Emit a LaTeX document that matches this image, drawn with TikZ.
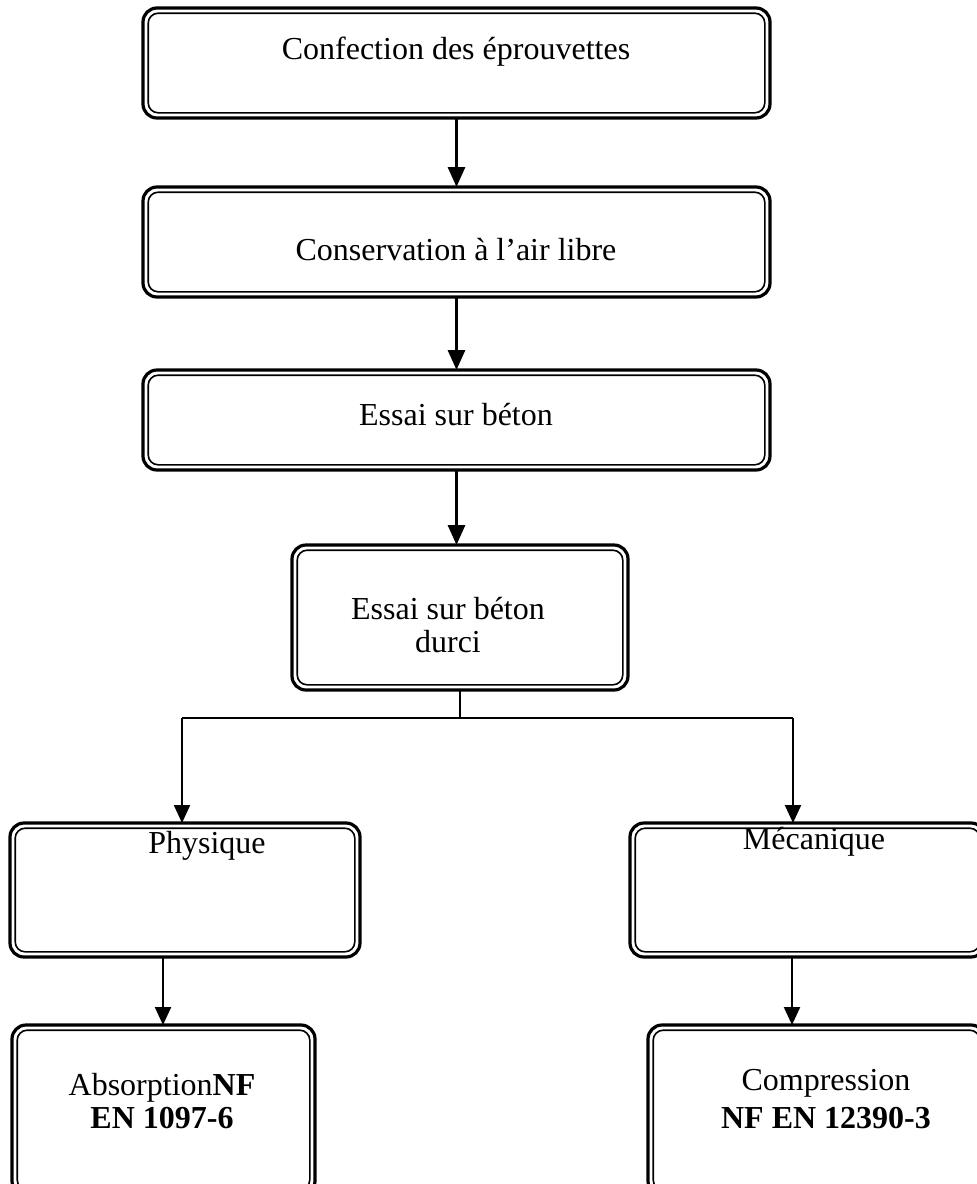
\documentclass[tikz,border=0pt]{standalone}
\usepackage{fontspec}
\setmainfont{Liberation Serif}
\usetikzlibrary{arrows.meta}
\begin{document}
\begin{tikzpicture}[x=0.5pt,y=-0.5pt,
  box/.style={draw, line width=1.6pt, rounded corners=7pt, rectangle, inner sep=0pt, outer sep=0pt},
  innerb/.style={draw, line width=0.8pt, rounded corners=5pt},
  lbl/.style={font=\fontsize{16}{16.5}\selectfont, inner sep=0pt, align=center},
  arr/.style={line width=1.5pt, -{Triangle[width=8.5pt,length=10pt]}},
  arrs/.style={line width=1.1pt, -{Triangle[width=8pt,length=9pt]}},
  ln/.style={line width=0.6pt},
  lnb/.style={line width=1.2pt}]
\useasboundingbox (0,0) rectangle (976,1184);
% boxes (px coords; sizes in pt = px/2)
\node[box, minimum width=313.5pt, minimum height=55pt] (b1) at (456.5,63) {};
\node[box, minimum width=313.5pt, minimum height=55pt] (b2) at (456.5,242) {};
\node[box, minimum width=313.5pt, minimum height=50pt] (b3) at (456.5,420) {};
\node[box, minimum width=168pt, minimum height=72.5pt] (b4) at (460,617.5) {};
\node[box, minimum width=175pt, minimum height=67pt] (b5) at (185,890) {};
\node[box, minimum width=177.5pt, minimum height=67pt] (b6) at (807.5,890) {};
\node[box, minimum width=151.5pt, minimum height=85pt] (b7) at (163.5,1110) {};
\node[box, minimum width=168.5pt, minimum height=85pt] (b8) at (816.5,1110) {};
\foreach \b in {b1,b2,b3,b4,b5,b6,b7,b8}
  \draw[innerb] ([xshift=2.6pt,yshift=-2.6pt]\b.north west) rectangle ([xshift=-2.6pt,yshift=2.6pt]\b.south east);
% labels
\node[lbl] (t1) at (456,52) {Confection des éprouvettes};
\node[lbl] (t2) at (456,250) {Conservation à l’air libre};
\node[lbl] (t3) at (456,415) {Essai sur béton};
\node[lbl] (t4) at (448,625) {Essai sur béton\\durci};
\node[lbl] (t5) at (207,846) {Physique};
\node[lbl] (t6) at (814,842) {Mécanique};
\node[lbl] (t7) at (162,1101) {Absorption\textbf{NF}\\\textbf{EN 1097-6}};
\node[lbl] (t8) at (826,1099) {Compression\\[2.5pt]\textbf{NF EN 12390-3}};
% connectors
\coordinate (jl) at (182,718);
\coordinate (jr) at (793,718);
\coordinate (ax) at (163,0);
\coordinate (bx) at (792,0);
\draw[arr] (b1.south) -- (b2.north);
\draw[arr] (b2.south) -- (b3.north);
\draw[arr] (b3.south) -- (b3.south |- b4.north);
\draw[ln] (b4.south) -- (b4.south |- jl);
\draw[lnb] (jl) -- (jr);
\draw[arrs] (jl) -- (jl |- b5.north);
\draw[arrs] (jr) -- (jr |- b6.north);
\draw[arrs] (b5.south -| ax) -- (b7.north -| ax);
\draw[arrs] (b6.south -| bx) -- (b8.north -| bx);
\end{tikzpicture}
\end{document}
